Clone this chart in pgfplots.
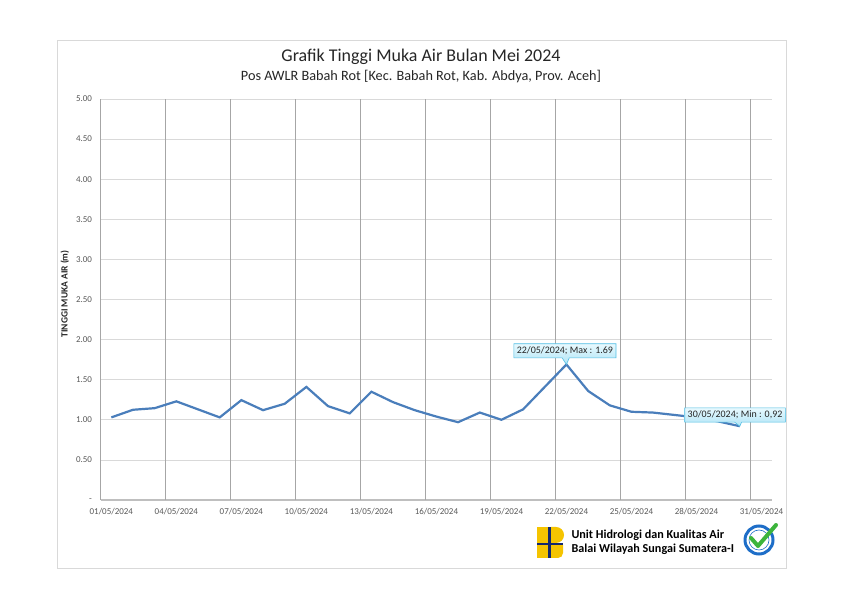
\documentclass[border=0pt]{standalone}
\usepackage{fontspec}
\setmainfont{Carlito}
\usepackage{pgfplots}
\pgfplotsset{compat=1.18}
\usetikzlibrary{shapes.callouts}
\definecolor{linec}{RGB}{74,126,187}
\definecolor{hgrid}{RGB}{217,217,217}
\definecolor{vgrid}{RGB}{166,166,166}
\definecolor{axc}{RGB}{191,191,191}
\definecolor{tickc}{RGB}{89,89,89}
\definecolor{titlec}{RGB}{38,38,38}
\definecolor{framec}{RGB}{217,217,217}
\definecolor{calfillt}{RGB}{232,249,254}
\definecolor{calfillb}{RGB}{176,228,246}
\definecolor{caldraw}{RGB}{80,190,228}
\definecolor{puyellow}{RGB}{245,196,0}
\definecolor{publue}{RGB}{20,40,110}
\definecolor{ringblue}{RGB}{30,110,200}
\definecolor{checkgreen}{RGB}{60,180,60}
\begin{document}
\begin{tikzpicture}[x=1bp,y=1bp]
\useasboundingbox[fill=white] (0,0) rectangle (842,595);
\draw[framec, line width=0.75bp] (57,27) rectangle (786,555);
\node[font=\fontsize{18}{21}\selectfont, text=titlec] at (421,538) {Grafik Tinggi Muka Air Bulan Mei 2024};
\node[font=\fontsize{14.3}{17}\selectfont, text=titlec] at (421,518) {Pos AWLR Babah Rot [Kec. Babah Rot, Kab. Abdya, Prov. Aceh]};
\begin{axis}[
  at={(100.5bp,95bp)}, anchor=south west,
  scale only axis, width=671.8bp, height=401bp,
  xmin=0.5, xmax=31.5, ymin=0, ymax=5,
  clip=false,
  axis lines*=left,
  axis line style={axc, line width=1.2bp},
  xtick={1,4,7,10,13,16,19,22,25,28,31},
  xticklabels={01/05/2024,04/05/2024,07/05/2024,10/05/2024,13/05/2024,16/05/2024,19/05/2024,22/05/2024,25/05/2024,28/05/2024,31/05/2024},
  extra x ticks={0.5,3.5,6.5,9.5,12.5,15.5,18.5,21.5,24.5,27.5,30.5},
  extra x tick labels={},
  extra x tick style={grid=major, major grid style={vgrid, line width=1.1bp}, major tick length=0pt},
  ytick={0,0.5,1,1.5,2,2.5,3,3.5,4,4.5,5},
  yticklabels={-,0.50,1.00,1.50,2.00,2.50,3.00,3.50,4.00,4.50,5.00},
  ymajorgrids,
  major grid style={hgrid, line width=0.75bp},
  major tick length=0pt,
  tick label style={font=\fontsize{9}{10}\selectfont, text=tickc},
  yticklabel style={xshift=-5bp},
  xticklabel style={yshift=-5bp},
  ylabel={TINGGI MUKA AIR (m)},
  ylabel style={at={(axis description cs:-0.053,0.514)}, anchor=center, font=\bfseries\fontsize{9.5}{11}\selectfont, text=titlec},
  /pgf/number format/assume math mode=true,
]
\addplot[linec, line width=2.2bp, mark=none] coordinates {
(1,1.03) (2,1.125) (3,1.145) (4,1.23) (5,1.13) (6,1.03) (7,1.245) (8,1.12) (9,1.20) (10,1.41)
(11,1.17) (12,1.08) (13,1.35) (14,1.22) (15,1.12) (16,1.04) (17,0.97) (18,1.09) (19,1.00) (20,1.13)
(21,1.41) (22,1.69) (23,1.36) (24,1.18) (25,1.10) (26,1.09) (27,1.06) (28,1.03) (29,0.98) (30,0.92)
};
\node[rectangle callout, callout absolute pointer={(axis cs:22,1.69)}, top color=calfillt, bottom color=calfillb, draw=caldraw, line width=0.6bp, font=\fontsize{10}{11}\selectfont, text=titlec, inner xsep=3bp, inner ysep=3bp] at (axis cs:21.93,1.86) {22/05/2024; Max : 1.69};
\node[rectangle callout, callout absolute pointer={(axis cs:30,0.92)}, top color=calfillt, bottom color=calfillb, draw=caldraw, line width=0.6bp, font=\fontsize{10}{11}\selectfont, text=titlec, inner xsep=3bp, inner ysep=3bp] at (axis cs:29.78,1.06) {30/05/2024; Min : 0,92};
\end{axis}
% PU logo
\fill[puyellow] (537,52) rectangle (548,68);
\fill[puyellow] (551,52) -- (551,68) -- (556,68) arc[start angle=90,end angle=-90,radius=8] -- cycle;
\fill[puyellow] (537,37) rectangle (548,50);
\fill[puyellow] (551,50) -- (563,50) -- (563,42) arc[start angle=0,end angle=-90,radius=5] -- (551,37) -- cycle;
\fill[publue] (548,37) rectangle (551,68);
\fill[publue] (537,50) rectangle (563,52);
\node[anchor=west, font=\bfseries\fontsize{12.2}{14}\selectfont, text=black] at (568,60) {Unit Hidrologi dan Kualitas Air};
\node[anchor=west, font=\bfseries\fontsize{12.2}{14}\selectfont, text=black] at (568,46) {Balai Wilayah Sungai Sumatera-I};
% certification logo
\draw[ringblue, line width=3bp] (759,55) circle (14);
\draw[ringblue, line width=0.6bp] (759,55) circle (10);
\draw[checkgreen, line width=4bp, line cap=round, line join=round] (751,57) -- (758,49) -- (776,70);
\end{tikzpicture}
\end{document}
